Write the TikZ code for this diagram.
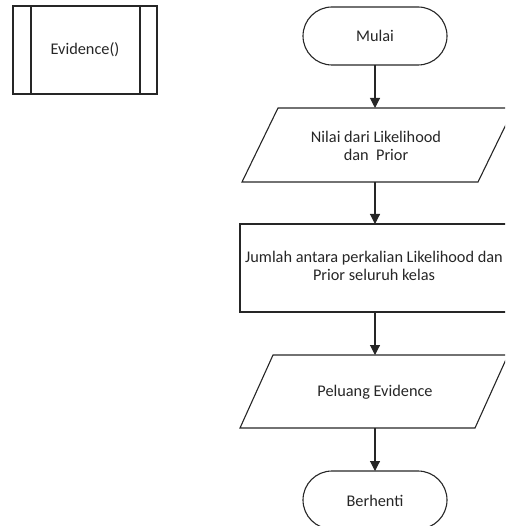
\documentclass[tikz,border=0pt]{standalone}
\usepackage{fontspec}
\setmainfont{Carlito}
\usetikzlibrary{arrows.meta}
\begin{document}
\begin{tikzpicture}[x=1pt,y=-1pt,
  shapeline/.style={draw=black!85,line width=1.1pt},
  lbl/.style={font=\fontsize{16.3}{18.5}\selectfont,align=center,text=black!85,inner sep=0pt},
  hook/.style={minimum width=10pt,minimum height=0pt,inner sep=0pt,draw=none},
  flow/.style={draw=black!85,line width=1.1pt,-{Triangle[width=10pt,length=10pt]}}]
\useasboundingbox (0,0) rectangle (505,526);
\clip (0,0) rectangle (505,526);
% Evidence() predefined process
\draw[shapeline] (13,6) rectangle (157,94);
\draw[shapeline] (31,6) -- (31,94);
\draw[shapeline] (140,6) -- (140,94);
\node[lbl] (evid) at (85,50) {Evidence()};
% Mulai
\draw[shapeline,rounded corners=29pt] (303,7) rectangle (447,65);
\node[lbl] (mulai) at (375,36) {Mulai};
\node[hook] (mulaiB) at (375,65) {};
% input 1
\draw[shapeline] (278,108) -- (514,108) -- (478,182) -- (242,182) -- cycle;
\node[lbl] (in1) at (376,146) {Nilai dari Likelihood\\dan\ \ Prior};
\node[hook] (in1T) at (375,108) {};
\node[hook] (in1B) at (375,182) {};
% process
\draw[shapeline] (240,224) rectangle (512,312);
\node[lbl] (proc) at (374,266) {Jumlah antara perkalian Likelihood dan\\Prior seluruh kelas};
\node[hook] (procT) at (375,224) {};
\node[hook] (procB) at (375,312) {};
% output
\draw[shapeline] (273,355) -- (508,355) -- (475,428) -- (240,428) -- cycle;
\node[lbl] (out) at (375,392) {Peluang Evidence};
\node[hook] (outT) at (375,355) {};
\node[hook] (outB) at (375,428) {};
% Berhenti
\draw[shapeline,rounded corners=29pt] (303,471) rectangle (447,529);
\node[lbl] (stop) at (375,501) {Berhenti};
\node[hook] (stopT) at (375,471) {};
% connectors
\draw[flow] (mulaiB.center) -- (in1T.center);
\draw[flow] (in1B.center) -- (procT.center);
\draw[flow] (procB.center) -- (outT.center);
\draw[flow] (outB.center) -- (stopT.center);
\end{tikzpicture}
\end{document}
